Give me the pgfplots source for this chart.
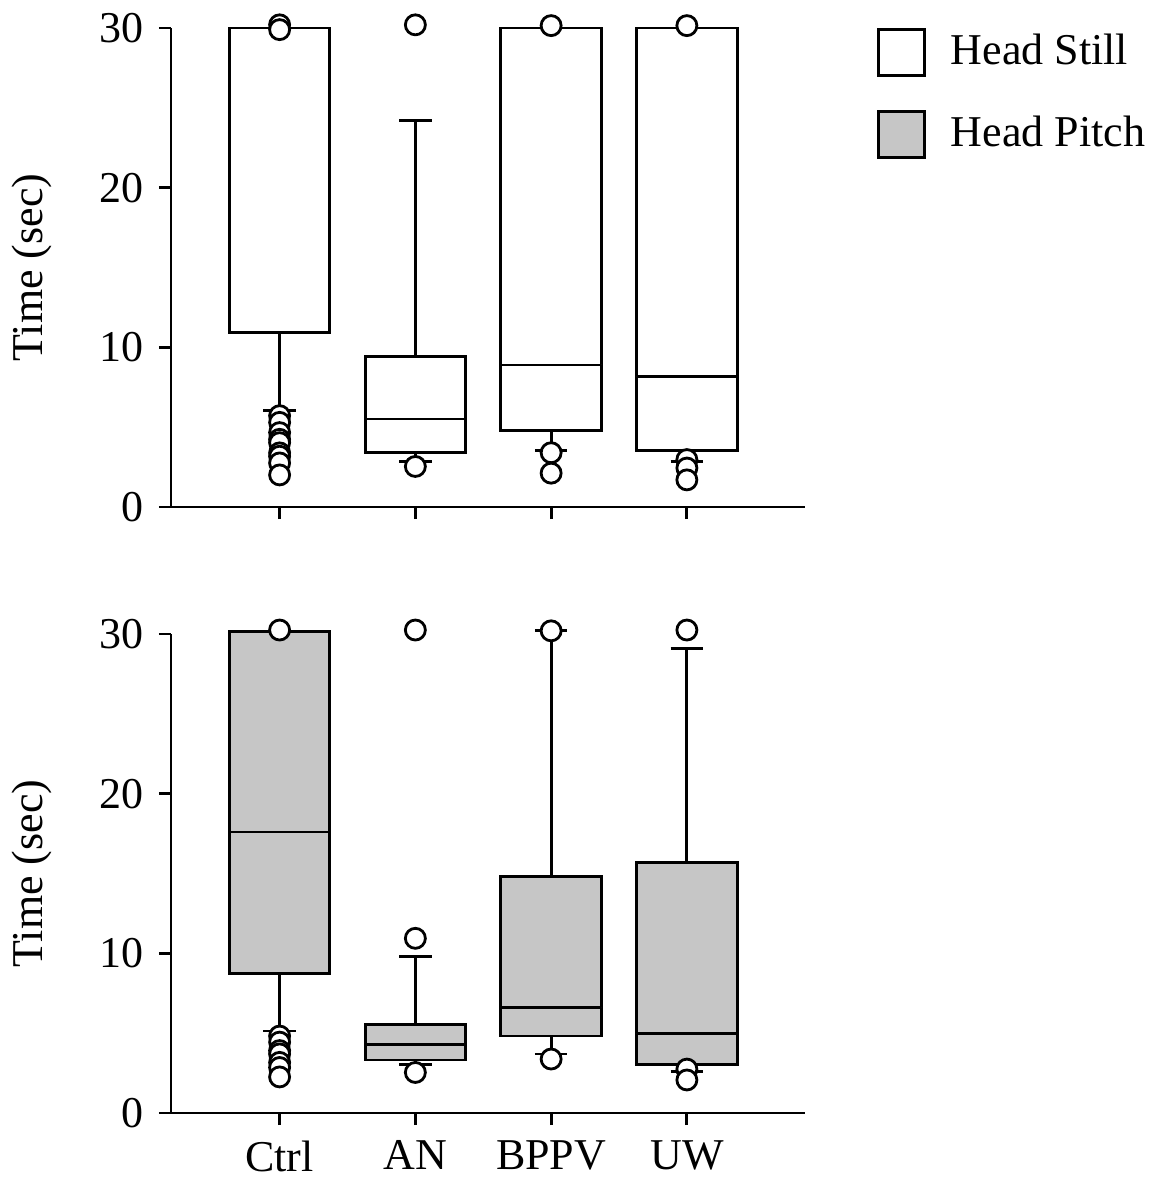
\documentclass[border=0pt]{standalone}
\usepackage{fontspec}
\setmainfont{Liberation Serif}
\usepackage{pgfplots}
\pgfplotsset{compat=1.18}
\usepgfplotslibrary{statistics}
\definecolor{pitchgray}{RGB}{198,198,198}

% 1 px of the reference = 0.25pt
\pgfplotsset{
  panel/.style={
    scale only axis, width=158.5pt, height=119.75pt,
    xmin=0.2, xmax=4.87, ymin=0, ymax=30,
    xtick={1,2,3,4}, ytick={0,10,20,30},
    axis lines=left, axis line style={-, line width=0.7pt},
    tick align=outside, major tick length=3pt,
    tick style={line width=0.7pt, black},
    /pgf/number format/assume math mode=true,
    clip=false,
    ylabel={Time (sec)},
    ylabel style={at={(axis description cs:0,0.5)}, anchor=south, inner sep=0pt, yshift=29.5pt},
    boxplot/draw direction=y,
    boxplot/box extend=0.74, boxplot/whisker extend=0.24,
    boxplot/every median/.style={line width=0.7pt},
  },
  bx/.style={draw=black, line width=0.7pt, solid, mark=none, fill=#1, boxplot/draw direction=y},
  outl/.style={only marks, mark=*, mark size=2.5pt,
    mark options={draw=black, fill=white, line width=0.7pt, solid}},
}

\begin{document}
\fontsize{11}{13.2}\selectfont
\begin{tikzpicture}
\path[use as bounding box] (-42.75pt,-168.25pt) rectangle (247pt,126.75pt);

% ---- Head Still ----
\begin{axis}[panel, xticklabels={},
  legend style={draw=none, fill=none, at={(axis description cs:1.1136,1)}, anchor=north west,
    inner sep=0pt, outer sep=0pt, row sep=8.25pt, nodes={inner sep=0pt},
    /tikz/every odd column/.style={column sep=6.25pt}},
  legend cell align=left]
\addlegendimage{legend image code/.code={\draw[line width=0.7pt, draw=black, fill=white] (0pt,-5.75pt) rectangle (11.5pt,5.75pt);}}
\addlegendentry{Head Still}
\addlegendimage{legend image code/.code={\draw[line width=0.7pt, draw=black, fill=pitchgray] (0pt,-5.75pt) rectangle (11.5pt,5.75pt);}}
\addlegendentry{Head Pitch}

\addplot[bx=white, boxplot prepared={draw position=1, lower whisker=6.04, lower quartile=10.92,
  median=30, upper quartile=30, upper whisker=30}] coordinates {};
\addplot[bx=white, boxplot prepared={draw position=2, lower whisker=2.86, lower quartile=3.39,
  median=5.51, upper quartile=9.43, upper whisker=24.2}] coordinates {};
\addplot[bx=white, boxplot prepared={draw position=3, lower whisker=3.54, lower quartile=4.77,
  median=8.9, upper quartile=30, upper whisker=30}] coordinates {};
\addplot[bx=white, boxplot prepared={draw position=4, lower whisker=2.86, lower quartile=3.54,
  median=8.16, upper quartile=30, upper whisker=30}] coordinates {};

\addplot[outl] coordinates {
  (1,30.2) (1,29.9) (1,5.72) (1,5.30) (1,4.66) (1,4.24) (1,4.03) (1,3.39) (1,3.18) (1,2.76) (1,2.01)
  (2,30.2) (2,2.54)
  (3,30.15) (3,3.40) (3,2.12)
  (4,30.15) (4,2.97) (4,2.44) (4,1.70)
};
\end{axis}

% ---- Head Pitch ----
\begin{axis}[panel, at={(0pt,-151.5pt)}, xticklabels={Ctrl,AN,BPPV,UW}]
\addplot[bx=pitchgray, boxplot prepared={draw position=1, lower whisker=5.13, lower quartile=8.73,
  median=17.6, upper quartile=30.17, upper whisker=30.17}] coordinates {};
\addplot[bx=pitchgray, boxplot prepared={draw position=2, lower whisker=3.02, lower quartile=3.32,
  median=4.27, upper quartile=5.54, upper whisker=9.82}] coordinates {};
\addplot[bx=pitchgray, boxplot prepared={draw position=3, lower whisker=3.70, lower quartile=4.82,
  median=6.61, upper quartile=14.79, upper whisker=30.2}] coordinates {};
\addplot[bx=pitchgray, boxplot prepared={draw position=4, lower whisker=2.60, lower quartile=3.06,
  median=5.0, upper quartile=15.68, upper whisker=29.1}] coordinates {};

\addplot[outl] coordinates {
  (1,30.25) (1,4.82) (1,4.44) (1,3.91) (1,3.70) (1,3.17) (1,2.85) (1,2.26)
  (2,30.25) (2,10.94) (2,2.54)
  (3,30.2) (3,3.38)
  (4,30.25) (4,2.75) (4,2.07)
};
\end{axis}
\end{tikzpicture}
\end{document}
